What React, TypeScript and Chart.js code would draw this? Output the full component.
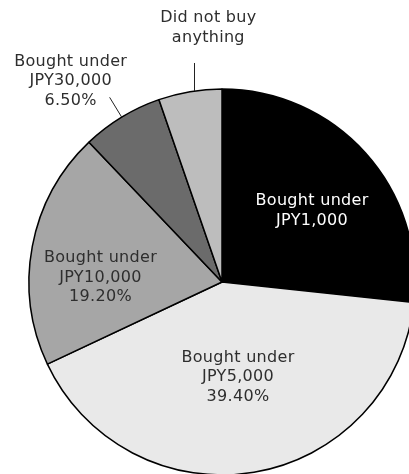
import React, { useEffect, useRef } from "react";
import { Chart, registerables } from "chart.js";

Chart.register(...registerables);

// ---- data ----
const categories = [
  "Bought under JPY1,000",
  "Bought under JPY5,000",
  "Bought under JPY10,000",
  "Bought under JPY30,000",
  "Did not buy anything",
];
const shares = [26.7, 41.3, 19.9, 6.8, 5.3];
const labelLines = [
  ["Bought under", "JPY1,000"],
  ["Bought under", "JPY5,000", "39.40%"],
  ["Bought under", "JPY10,000", "19.20%"],
  ["Bought under", "JPY30,000", "6.50%"],
  ["Did not buy", "anything"],
];
const sliceColors = ["#000000", "#e9e9e9", "#a6a6a6", "#6b6b6b", "#bdbdbd"];
const textColors = ["#ffffff", "#2e2e2e", "#2e2e2e", "#2e2e2e", "#2e2e2e"];

// label placement (style/layout config)
type LabelCfg =
  | { kind: "inside"; dAngle: number; rFrac: number }
  | { kind: "radial"; leaderIn: number; leaderOut: number; dx: number; dy: number }
  | { kind: "vertical"; dAngle: number; len: number; dx: number; dy: number };
const labelLayout: LabelCfg[] = [
  { kind: "inside", dAngle: 3.7, rFrac: 0.594 },
  { kind: "inside", dAngle: 0, rFrac: 0.5 },
  { kind: "inside", dAngle: -8.5, rFrac: 0.63 },
  { kind: "radial", leaderIn: 1.0, leaderOut: 1.12, dx: -39, dy: -16 },
  { kind: "vertical", dAngle: 1.3, len: 28, dx: 14, dy: -35 },
];

const FONT = '16px "DejaVu Sans", Verdana, sans-serif';
const LINE_H = 19.5;

const labelPlugin = {
  id: "sliceLabels",
  afterDatasetsDraw(chart: any) {
    const ctx = chart.ctx as CanvasRenderingContext2D;
    const meta = chart.getDatasetMeta(0);
    ctx.save();
    ctx.font = FONT;
    (ctx as any).letterSpacing = "0.3px";
    ctx.textAlign = "center";
    ctx.textBaseline = "middle";
    meta.data.forEach((arc: any, i: number) => {
      const { x, y, startAngle, endAngle, outerRadius } = arc.getProps(
        ["x", "y", "startAngle", "endAngle", "outerRadius"],
        true
      );
      const mid = (startAngle + endAngle) / 2;
      const cfg = labelLayout[i];
      const lines = labelLines[i];
      let cx = 0;
      let cy = 0;
      if (cfg.kind === "inside") {
        const a = mid + (cfg.dAngle * Math.PI) / 180;
        cx = x + Math.cos(a) * outerRadius * cfg.rFrac;
        cy = y + Math.sin(a) * outerRadius * cfg.rFrac;
      } else if (cfg.kind === "radial") {
        const x0 = x + Math.cos(mid) * outerRadius * cfg.leaderIn;
        const y0 = y + Math.sin(mid) * outerRadius * cfg.leaderIn;
        const x1 = x + Math.cos(mid) * outerRadius * cfg.leaderOut;
        const y1 = y + Math.sin(mid) * outerRadius * cfg.leaderOut;
        ctx.beginPath();
        ctx.strokeStyle = "#222";
        ctx.lineWidth = 1;
        ctx.moveTo(x0, y0);
        ctx.lineTo(x1, y1);
        ctx.stroke();
        cx = x1 + cfg.dx;
        cy = y1 + cfg.dy;
      } else {
        const a = mid + (cfg.dAngle * Math.PI) / 180;
        const x0 = x + Math.cos(a) * outerRadius;
        const y0 = y + Math.sin(a) * outerRadius;
        const x1 = x0;
        const y1 = y0 - cfg.len;
        ctx.beginPath();
        ctx.strokeStyle = "#222";
        ctx.lineWidth = 1;
        ctx.moveTo(Math.round(x0) + 0.5, y0);
        ctx.lineTo(Math.round(x1) + 0.5, y1);
        ctx.stroke();
        cx = x1 + cfg.dx;
        cy = y1 + cfg.dy;
      }
      ctx.fillStyle = textColors[i];
      const n = lines.length;
      lines.forEach((t, k) => {
        ctx.fillText(t, cx, cy + (k - (n - 1) / 2) * LINE_H);
      });
    });
    ctx.restore();
  },
};

export default function App() {
  const ref = useRef<HTMLCanvasElement | null>(null);
  useEffect(() => {
    if (!ref.current) return;
    const chart = new Chart(ref.current, {
      type: "pie",
      data: {
        labels: categories,
        datasets: [
          {
            data: shares,
            backgroundColor: sliceColors,
            borderColor: "#000000",
            borderWidth: 1.5,
          },
        ],
      },
      options: {
        responsive: false,
        animation: false,
        radius: 193,
        layout: { padding: { top: 89, bottom: 5, left: 0, right: 0 } },
        plugins: {
          legend: { display: false },
          tooltip: { enabled: false },
        },
      } as any,
      plugins: [labelPlugin],
    });
    return () => chart.destroy();
  }, []);
  return (
    <div
      style={{
        position: "absolute",
        left: 0,
        top: 0,
        width: 409,
        height: 474,
        overflow: "hidden",
        background: "#ffffff",
      }}
    >
      <canvas ref={ref} width={444} height={480} style={{ display: "block" }} />
    </div>
  );
}
